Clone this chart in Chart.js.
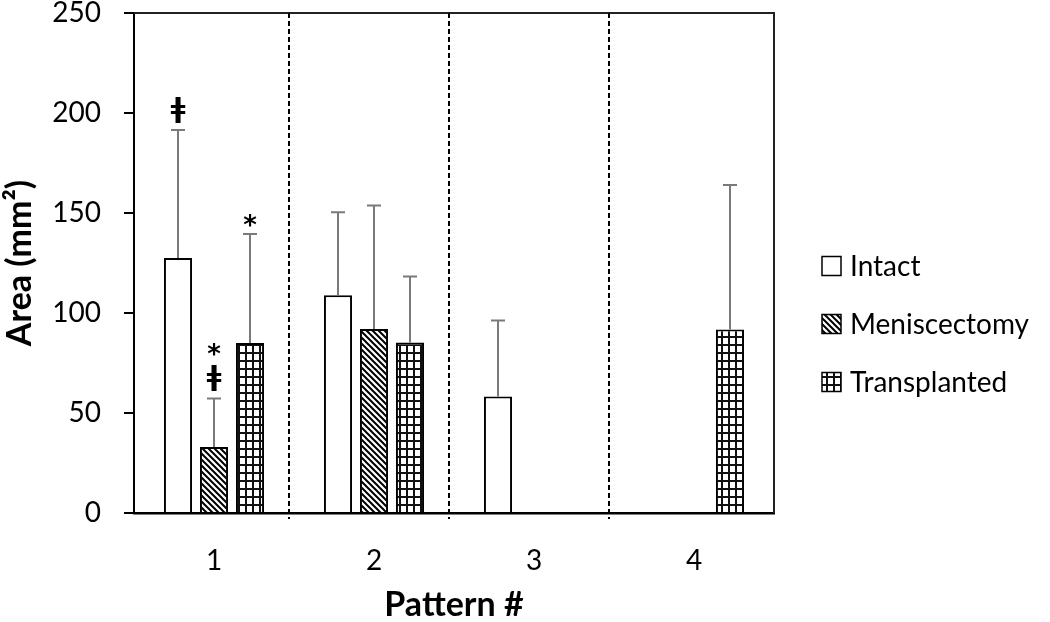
<!DOCTYPE html>
<html><head><meta charset="utf-8">
<script src="https://cdn.jsdelivr.net/npm/chart.js@4.4.1/dist/chart.umd.min.js"></script>
<style>html,body{margin:0;padding:0;background:#fff;}canvas{display:block;}</style>
</head><body>
<canvas id="c" width="1050" height="622"></canvas>
<script>
const categories = ['1', '2', '3', '4'];
const seriesNames = ['Intact', 'Meniscectomy', 'Transplanted'];
const intactValues = [127.5, 108.9, 58.2, null];
const meniscValues = [33, 92, null, null];
const transplValues = [85, 85.3, null, 91.8];
const intactErrors = [64, 41.5, 38, null];
const meniscErrors = [24.3, 61.8, null, null];
const transplErrors = [54.5, 32.9, null, 72.2];
const intactMarks = [['ǂ'], [], [], []];
const meniscMarks = [['ǂ', '*'], [], [], []];
const transplMarks = [['*'], [], [], []];
const yMin = 0, yMax = 250, yStep = 50;
const xTitle = 'Pattern #';
const yTitle = 'Area (mm²)';

const FONT = 'Lato, "Open Sans", sans-serif';

function makeWhite() { return '#ffffff'; }
function makeDiag() {
  const s = 6, c = document.createElement('canvas'); c.width = s; c.height = s;
  const g = c.getContext('2d');
  g.fillStyle = '#fff'; g.fillRect(0, 0, s, s);
  g.strokeStyle = '#000'; g.lineWidth = 2;
  g.beginPath();
  g.moveTo(-1, -1); g.lineTo(s + 1, s + 1);
  g.moveTo(s - 2, -2); g.lineTo(s + 2, 2);
  g.moveTo(-2, s - 2); g.lineTo(2, s + 2);
  g.stroke();
  return g.createPattern(c, 'repeat');
}
function makeGrid() {
  const w = 7, h = 8, c = document.createElement('canvas'); c.width = w; c.height = h;
  const g = c.getContext('2d');
  g.fillStyle = '#fff'; g.fillRect(0, 0, w, h);
  g.fillStyle = '#111';
  g.fillRect(0, 0, w, 2); g.fillRect(0, 0, 2, h);
  return g.createPattern(c, 'repeat');
}

const fills = [makeWhite(), makeDiag(), makeGrid()];
const seriesValues = [intactValues, meniscValues, transplValues];
const seriesErrors = [intactErrors, meniscErrors, transplErrors];
const seriesMarks = [intactMarks, meniscMarks, transplMarks];

const overlay = {
  id: 'overlay',
  beforeDraw(chart) {
    const ctx = chart.ctx;
    ctx.save(); ctx.fillStyle = '#fff'; ctx.fillRect(0, 0, chart.width, chart.height); ctx.restore();
  },
  afterDatasetsDraw(chart) {
    const { ctx, chartArea: a, scales: { x, y } } = chart;
    ctx.save();
    // plot-area border (top & right)
    ctx.strokeStyle = '#222'; ctx.lineWidth = 2;
    ctx.beginPath();
    ctx.moveTo(a.left, a.top); ctx.lineTo(a.right, a.top); ctx.lineTo(a.right, a.bottom);
    ctx.stroke();
    // dashed separators between patterns
    const shift = -5;
    ctx.setLineDash([5, 3]); ctx.lineWidth = 2; ctx.strokeStyle = '#000';
    for (let i = 0; i < categories.length - 1; i++) {
      const px = Math.round((x.getPixelForValue(i) + x.getPixelForValue(i + 1)) / 2 + shift);
      ctx.beginPath(); ctx.moveTo(px, a.top); ctx.lineTo(px, a.bottom + 6); ctx.stroke();
    }
    ctx.setLineDash([]);
    // error bars and significance marks
    chart.data.datasets.forEach((ds, di) => {
      const meta = chart.getDatasetMeta(di);
      meta.data.forEach((bar, i) => {
        const v = ds.data[i], e = seriesErrors[di][i];
        if (v == null || e == null) return;
        const cx = bar.x;
        const yTop = y.getPixelForValue(v + e);
        ctx.strokeStyle = '#7a7a7a'; ctx.lineWidth = 2;
        ctx.beginPath();
        ctx.moveTo(cx, bar.y); ctx.lineTo(cx, yTop);
        ctx.moveTo(cx - 7, yTop); ctx.lineTo(cx + 7, yTop);
        ctx.stroke();
        let base = yTop - 7;
        ctx.fillStyle = '#000'; ctx.textAlign = 'center'; ctx.textBaseline = 'alphabetic';
        seriesMarks[di][i].forEach(m => {
          ctx.font = m === '*' ? 'bold 26px "DejaVu Sans"' : 'bold 27px "DejaVu Sans"';
          const tm = ctx.measureText(m);
          ctx.fillText(m, cx, base - tm.actualBoundingBoxDescent);
          base = base - tm.actualBoundingBoxDescent - tm.actualBoundingBoxAscent - 9;
        });
      });
    });
    ctx.restore();
  },
  afterDraw(chart) {
    const { ctx, chartArea: a } = chart;
    ctx.save();
    ctx.font = '28px ' + FONT; ctx.textBaseline = 'middle'; ctx.textAlign = 'left'; ctx.fillStyle = '#000';
    chart.data.datasets.forEach((ds, i) => {
      const cy = chart.height / 2 + 13 + (i - 1) * 58;
      const bx = a.right + 48, s = 19;
      ctx.fillStyle = ds.backgroundColor;
      ctx.fillRect(bx, cy - s / 2, s, s);
      ctx.strokeStyle = '#000'; ctx.lineWidth = 1.5;
      ctx.strokeRect(bx, cy - s / 2, s, s);
      ctx.fillStyle = '#000';
      ctx.fillText(ds.label, bx + s + 9, cy + 1);
    });
    ctx.restore();
  }
};

const datasets = seriesNames.map((name, i) => ({
  label: name,
  data: seriesValues[i],
  backgroundColor: fills[i],
  borderColor: '#000',
  borderWidth: 2,
  borderSkipped: 'start',
  categoryPercentage: 0.675,
  barPercentage: 0.78
}));

new Chart(document.getElementById('c'), {
  type: 'bar',
  data: { labels: categories, datasets },
  plugins: [overlay],
  options: {
    responsive: false,
    animation: false,
    devicePixelRatio: 1,
    layout: { padding: { top: 13, right: 276, bottom: 0, left: 0 } },
    plugins: { legend: { display: false }, tooltip: { enabled: false } },
    scales: {
      x: {
        type: 'category',
        offset: true,
        z: 1,
        grid: { display: false },
        border: { display: true, color: '#000', width: 2.5 },
        ticks: { color: '#000', font: { family: FONT, size: 28 }, padding: 23, maxRotation: 0 },
        title: { display: true, text: xTitle, color: '#000', font: { family: FONT, size: 34, weight: 'bold', lineHeight: 1 }, padding: { top: 0, bottom: 0 } },
        afterFit(s) { s.height = 109; s.paddingLeft = 0; s.paddingRight = 0; }
      },
      y: {
        min: yMin, max: yMax,
        z: 1,
        grid: { display: true, drawOnChartArea: false, drawTicks: true, tickLength: 10, color: '#000', lineWidth: 2 },
        border: { display: true, color: '#000', width: 2 },
        ticks: { stepSize: yStep, color: '#000', font: { family: FONT, size: 28 }, padding: 23 },
        title: { display: true, text: yTitle, color: '#000', font: { family: FONT, size: 34, weight: 'bold', lineHeight: 1 }, padding: { top: 3, bottom: 0 } },
        afterFit(s) { s.width = 134; s.paddingTop = 0; s.paddingBottom = 0; }
      }
    }
  }
});
</script>
</body></html>
